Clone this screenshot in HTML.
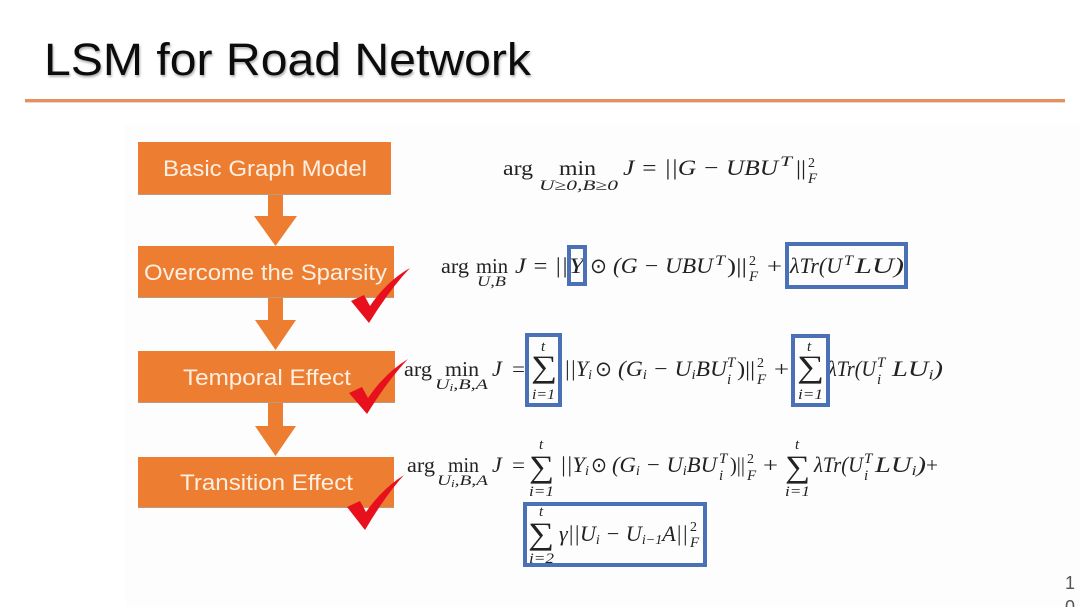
<!DOCTYPE html>
<html>
<head>
<meta charset="utf-8">
<title>LSM for Road Network</title>
<style>
html,body{margin:0;padding:0;background:#fff;width:1080px;height:607px;overflow:hidden}
svg{display:block;filter:blur(.35px)}
text{font-family:"Liberation Serif",serif;fill:#222;white-space:pre}
.i{font-style:italic;font-size:22px}
.r{font-size:21px}
.si{font-style:italic;font-size:15px}
.sr{font-size:14px}
.sum{font-size:31px}
.box{font-family:"Liberation Sans",sans-serif;font-size:22px;fill:#fdf0e2}
.title{font-family:"Liberation Sans",sans-serif;font-size:45px;fill:#0c0c0c;filter:drop-shadow(1px 2px 1px rgba(0,0,0,.3))}
.hl{fill:none;stroke:#4a70b6;stroke-width:4}
</style>
</head>
<body>
<svg width="1080" height="607" viewBox="0 0 1080 607" xmlns="http://www.w3.org/2000/svg">
<rect width="1080" height="607" fill="#ffffff"/>
<rect x="125" y="125" width="955" height="482" fill="#fdfdfd"/>

<text class="title" x="44" y="75" textLength="487" lengthAdjust="spacingAndGlyphs">LSM for Road Network</text>
<rect x="25" y="102" width="1040" height="1" fill="#c9c0b8" opacity=".6"/>
<rect x="25" y="99" width="1040" height="3" fill="#e8905c"/>

<g fill="#b89a85">
<rect x="138" y="144" width="253" height="51"/>
<rect x="138" y="248" width="256" height="50"/>
<rect x="138" y="353" width="257" height="50"/>
<rect x="138" y="459" width="256" height="49"/>
</g>
<g fill="#ed7d31">
<rect x="138" y="142" width="253" height="52"/>
<rect x="138" y="246" width="256" height="51"/>
<rect x="138" y="351" width="257" height="51"/>
<rect x="138" y="457" width="256" height="50"/>
<polygon points="268,195 283,195 283,216 297,216 275.500,246 254,216 268,216"/>
<polygon points="268,298 283,298 283,320 296,320 275.500,350 255,320 268,320"/>
<polygon points="268,403 283,403 283,426 296,426 275.500,456 255,426 268,426"/>
</g>
<text class="box" x="163" y="176" textLength="204" lengthAdjust="spacingAndGlyphs">Basic Graph Model</text>
<text class="box" x="144" y="280" textLength="243" lengthAdjust="spacingAndGlyphs">Overcome the Sparsity</text>
<text class="box" x="183" y="385" textLength="168" lengthAdjust="spacingAndGlyphs">Temporal Effect</text>
<text class="box" x="180" y="490" textLength="173" lengthAdjust="spacingAndGlyphs">Transition Effect</text>

<g fill="#e8101c">
<path d="M351,301 L364,295 L370,306 Q387,281 410,268 Q390,289 369,323 Z"/>
<path d="M349,393 L362,387 L368,398 Q385,373 408,359 Q388,380 367,414 Z"/>
<path d="M347,507 L360,501 L366,512 Q382,489 404,475 Q385,496 365,530 Z"/>
</g>

<!-- Formula 1 -->
<text class="r" x="503" y="175" textLength="30" lengthAdjust="spacingAndGlyphs">arg</text>
<text class="r" x="559" y="175" textLength="37" lengthAdjust="spacingAndGlyphs">min</text>
<text class="si" x="539" y="190" textLength="79" lengthAdjust="spacingAndGlyphs">U≥0,B≥0</text>
<text class="i" x="623" y="175" textLength="155" lengthAdjust="spacingAndGlyphs">J = ||G − UBU</text>
<text class="si" x="780" y="166" textLength="12" lengthAdjust="spacingAndGlyphs">T</text>
<text class="r" x="796" y="175" textLength="10" lengthAdjust="spacingAndGlyphs">||</text>
<text class="sr" x="808" y="167">2</text>
<text class="si" x="808" y="183">F</text>

<!-- Formula 2 -->
<text class="r" x="441" y="273" textLength="28" lengthAdjust="spacingAndGlyphs">arg</text>
<text class="r" x="476" y="273" textLength="32" lengthAdjust="spacingAndGlyphs">min</text>
<text class="si" x="477" y="286" textLength="29" lengthAdjust="spacingAndGlyphs">U,B</text>
<text class="i" x="515" y="273" textLength="53" lengthAdjust="spacingAndGlyphs">J = ||</text>
<text class="i" x="569" y="273" textLength="15" lengthAdjust="spacingAndGlyphs">Y</text>
<text class="r" x="590" y="273" textLength="17" lengthAdjust="spacingAndGlyphs">⊙</text>
<text class="i" x="613" y="273" textLength="100" lengthAdjust="spacingAndGlyphs">(G − UBU</text>
<text class="si" x="715" y="265" textLength="10" lengthAdjust="spacingAndGlyphs">T</text>
<text class="r" x="727" y="273" textLength="20" lengthAdjust="spacingAndGlyphs">)||</text>
<text class="sr" x="749" y="265">2</text>
<text class="si" x="749" y="281">F</text>
<text class="r" x="767" y="273" textLength="15" lengthAdjust="spacingAndGlyphs">+</text>
<text class="i" x="790" y="273" textLength="52" lengthAdjust="spacingAndGlyphs">λTr(U</text>
<text class="si" x="844" y="265" textLength="9" lengthAdjust="spacingAndGlyphs">T</text>
<text class="i" x="855" y="273" textLength="49" lengthAdjust="spacingAndGlyphs">LU)</text>
<rect class="hl" x="569" y="247" width="16" height="37"/>
<rect class="hl" x="787" y="244" width="119" height="43"/>

<!-- Formula 3 -->
<text class="r" x="404" y="376" textLength="28" lengthAdjust="spacingAndGlyphs">arg</text>
<text class="r" x="445" y="376" textLength="34" lengthAdjust="spacingAndGlyphs">min</text>
<text class="si" x="435" y="389" textLength="53" lengthAdjust="spacingAndGlyphs">U<tspan font-size="10" dy="2">i</tspan><tspan dy="-2">,B,A</tspan></text>
<text class="i" x="492" y="376">J</text>
<text class="r" x="512" y="376" textLength="13" lengthAdjust="spacingAndGlyphs">=</text>
<text class="sum" x="531" y="377" textLength="26" lengthAdjust="spacingAndGlyphs">∑</text>
<text class="si" x="541" y="351">t</text>
<text class="si" x="532" y="399" textLength="23" lengthAdjust="spacingAndGlyphs">i=1</text>
<text class="i" x="564" y="376" textLength="28" lengthAdjust="spacingAndGlyphs">||Y<tspan font-size="14" dy="3">i</tspan></text>
<text class="r" x="595" y="376" textLength="17" lengthAdjust="spacingAndGlyphs">⊙</text>
<text class="i" x="618" y="376" textLength="109" lengthAdjust="spacingAndGlyphs">(G<tspan font-size="14" dy="3">i</tspan><tspan dy="-3"> − U</tspan><tspan font-size="14" dy="3">i</tspan><tspan dy="-3">BU</tspan></text>
<text class="si" x="727" y="367">T</text>
<text class="si" x="727" y="384">i</text>
<text class="r" x="737" y="376" textLength="18" lengthAdjust="spacingAndGlyphs">)||</text>
<text class="sr" x="757" y="367">2</text>
<text class="si" x="757" y="384">F</text>
<text class="r" x="774" y="376" textLength="15" lengthAdjust="spacingAndGlyphs">+</text>
<text class="sum" x="797" y="377" textLength="27" lengthAdjust="spacingAndGlyphs">∑</text>
<text class="si" x="807" y="351">t</text>
<text class="si" x="798" y="399" textLength="25" lengthAdjust="spacingAndGlyphs">i=1</text>
<text class="i" x="828" y="376" textLength="48" lengthAdjust="spacingAndGlyphs">λTr(U</text>
<text class="si" x="877" y="367">T</text>
<text class="si" x="877" y="384">i</text>
<text class="i" x="892" y="376" textLength="51" lengthAdjust="spacingAndGlyphs">LU<tspan font-size="14" dy="3">i</tspan><tspan dy="-3">)</tspan></text>
<rect class="hl" x="527" y="335" width="33" height="70"/>
<rect class="hl" x="793" y="336" width="35" height="69"/>

<!-- Formula 4 -->
<text class="r" x="407" y="472" textLength="28" lengthAdjust="spacingAndGlyphs">arg</text>
<text class="r" x="448" y="472" textLength="31" lengthAdjust="spacingAndGlyphs">min</text>
<text class="si" x="437" y="485" textLength="51" lengthAdjust="spacingAndGlyphs">U<tspan font-size="10" dy="2">i</tspan><tspan dy="-2">,B,A</tspan></text>
<text class="i" x="492" y="472">J</text>
<text class="r" x="512" y="472" textLength="13" lengthAdjust="spacingAndGlyphs">=</text>
<text class="sum" x="529" y="477" textLength="25" lengthAdjust="spacingAndGlyphs">∑</text>
<text class="si" x="539" y="449">t</text>
<text class="si" x="529" y="496" textLength="25" lengthAdjust="spacingAndGlyphs">i=1</text>
<text class="i" x="560" y="472" textLength="29" lengthAdjust="spacingAndGlyphs">||Y<tspan font-size="14" dy="3">i</tspan></text>
<text class="r" x="591" y="472" textLength="16" lengthAdjust="spacingAndGlyphs">⊙</text>
<text class="i" x="612" y="472" textLength="105" lengthAdjust="spacingAndGlyphs">(G<tspan font-size="14" dy="3">i</tspan><tspan dy="-3"> − U</tspan><tspan font-size="14" dy="3">i</tspan><tspan dy="-3">BU</tspan></text>
<text class="si" x="719" y="463">T</text>
<text class="si" x="719" y="480">i</text>
<text class="r" x="730" y="472" textLength="15" lengthAdjust="spacingAndGlyphs">)||</text>
<text class="sr" x="747" y="463">2</text>
<text class="si" x="747" y="480">F</text>
<text class="r" x="763" y="472" textLength="15" lengthAdjust="spacingAndGlyphs">+</text>
<text class="sum" x="785" y="477" textLength="25" lengthAdjust="spacingAndGlyphs">∑</text>
<text class="si" x="795" y="449">t</text>
<text class="si" x="785" y="496" textLength="25" lengthAdjust="spacingAndGlyphs">i=1</text>
<text class="i" x="814" y="472" textLength="49" lengthAdjust="spacingAndGlyphs">λTr(U</text>
<text class="si" x="864" y="463">T</text>
<text class="si" x="864" y="480">i</text>
<text class="i" x="875" y="472" textLength="51" lengthAdjust="spacingAndGlyphs">LU<tspan font-size="14" dy="3">i</tspan><tspan dy="-3">)</tspan></text>
<text class="r" x="926" y="472" textLength="12" lengthAdjust="spacingAndGlyphs">+</text>

<text class="sum" x="528" y="544" textLength="26" lengthAdjust="spacingAndGlyphs">∑</text>
<text class="si" x="539" y="516">t</text>
<text class="si" x="529" y="563" textLength="25" lengthAdjust="spacingAndGlyphs">i=2</text>
<text class="i" x="559" y="541" textLength="129" lengthAdjust="spacingAndGlyphs">γ||U<tspan font-size="14" dy="3">i</tspan><tspan dy="-3"> − U</tspan><tspan font-size="14" dy="3">i−1</tspan><tspan dy="-3">A||</tspan></text>
<text class="sr" x="690" y="531">2</text>
<text class="si" x="690" y="547">F</text>
<rect class="hl" x="525" y="504" width="180" height="61"/>

<text x="1065" y="589" font-size="18" style="font-family:'Liberation Sans',sans-serif;fill:#555">1</text>
<text x="1065" y="613" font-size="18" style="font-family:'Liberation Sans',sans-serif;fill:#555">0</text>
</svg>
</body>
</html>
